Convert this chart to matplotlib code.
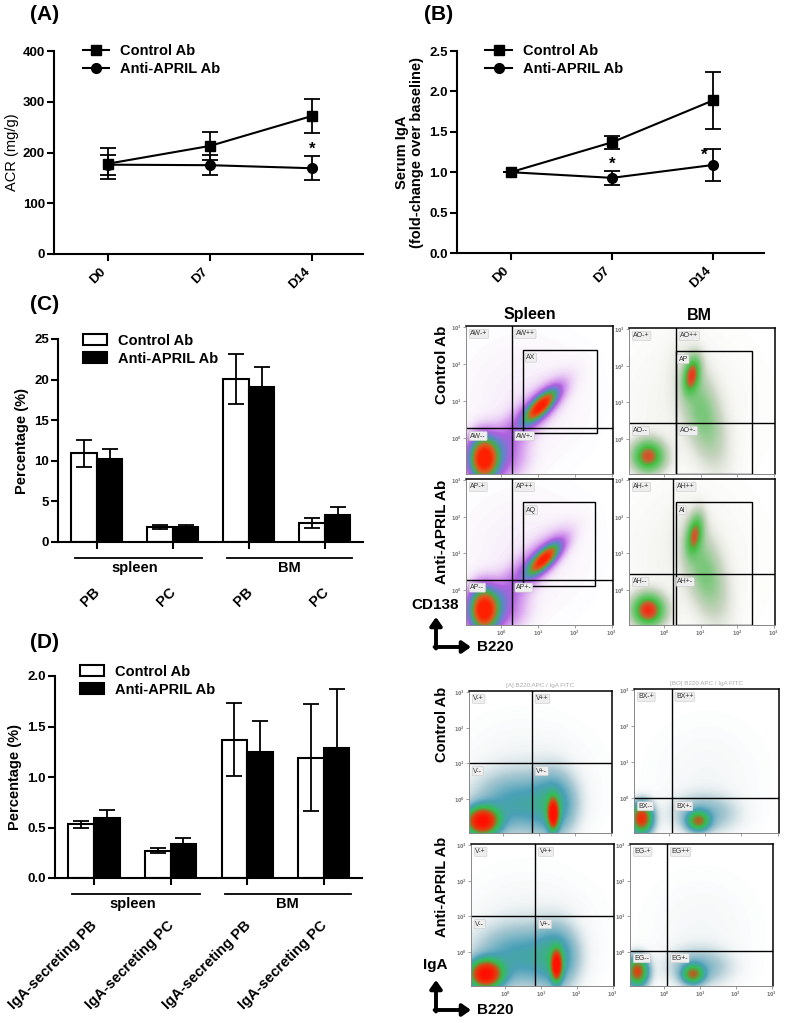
import numpy as np
import matplotlib.pyplot as plt
from matplotlib.colors import LinearSegmentedColormap
from matplotlib.patches import Patch, Rectangle
from matplotlib.lines import Line2D

plt.rcParams['font.family'] = ['Liberation Sans', 'DejaVu Sans']
plt.rcParams['font.weight'] = 'bold'
plt.rcParams['axes.labelweight'] = 'bold'

# ---- data -------------------------------------------------------------
days = ['D0', 'D7', 'D14']
acr_ctrl = [178, 213, 272]
acr_ctrl_err = [31, 28, 33]
acr_anti = [176, 175, 169]
acr_anti_err = [20, 20, 24]

iga_ctrl = [1.0, 1.37, 1.89]
iga_ctrl_err = [0.0, 0.08, 0.35]
iga_anti = [1.0, 0.93, 1.09]
iga_anti_err = [0.0, 0.09, 0.20]

c_labels = ['PB', 'PC', 'PB', 'PC']
pct_ctrl = [10.9, 1.85, 20.1, 2.35]
pct_ctrl_err = [1.65, 0.25, 3.05, 0.65]
pct_anti = [10.25, 1.85, 19.1, 3.35]
pct_anti_err = [1.25, 0.25, 2.4, 1.0]

d_labels = ['IgA-secreting PB', 'IgA-secreting PC',
            'IgA-secreting PB', 'IgA-secreting PC']
iga_pct_ctrl = [0.53, 0.27, 1.37, 1.19]
iga_pct_ctrl_err = [0.03, 0.025, 0.36, 0.53]
iga_pct_anti = [0.59, 0.34, 1.25, 1.29]
iga_pct_anti_err = [0.08, 0.06, 0.30, 0.58]

# flow plots: cluster (cx, cy, sx, sy, angle, weight) in axes fraction
spleen_ctrl_cl = [(0.12, 0.10, 0.06, 0.09, 0, 1.0), (0.20, 0.12, 0.12, 0.11, 0, 0.22),
                  (0.51, 0.46, 0.09, 0.035, 45, 0.95), (0.44, 0.40, 0.20, 0.065, 45, 0.16),
                  (0.40, 0.50, 0.30, 0.30, 0, 0.025)]
spleen_anti_cl = [(0.12, 0.10, 0.06, 0.09, 0, 1.0), (0.20, 0.12, 0.12, 0.11, 0, 0.22),
                  (0.53, 0.45, 0.09, 0.035, 45, 0.9), (0.45, 0.40, 0.20, 0.065, 45, 0.16),
                  (0.40, 0.50, 0.30, 0.30, 0, 0.025)]
bm_ctrl_cl = [(0.13, 0.12, 0.07, 0.07, 0, 0.8), (0.43, 0.68, 0.035, 0.08, -10, 0.75),
              (0.50, 0.42, 0.08, 0.22, 15, 0.3), (0.40, 0.45, 0.30, 0.35, 0, 0.03)]
bm_anti_cl = [(0.13, 0.10, 0.07, 0.07, 0, 0.95), (0.45, 0.62, 0.035, 0.09, -10, 0.65),
              (0.52, 0.36, 0.08, 0.20, 15, 0.3), (0.40, 0.45, 0.30, 0.35, 0, 0.03)]
iga_sp_ctrl_cl = [(0.09, 0.08, 0.075, 0.065, 0, 1.0), (0.59, 0.13, 0.025, 0.07, 0, 0.95),
                  (0.33, 0.20, 0.20, 0.14, 0, 0.22), (0.60, 0.20, 0.10, 0.15, 0, 0.22),
                  (0.40, 0.40, 0.30, 0.25, 0, 0.03)]
iga_sp_anti_cl = [(0.10, 0.08, 0.075, 0.065, 0, 1.0), (0.60, 0.14, 0.025, 0.07, 0, 0.9),
                  (0.33, 0.20, 0.20, 0.14, 0, 0.22), (0.60, 0.20, 0.10, 0.15, 0, 0.22),
                  (0.40, 0.40, 0.30, 0.25, 0, 0.03)]
iga_bm_ctrl_cl = [(0.05, 0.10, 0.05, 0.07, 0, 0.8), (0.44, 0.08, 0.05, 0.045, 0, 0.5),
                  (0.48, 0.13, 0.15, 0.09, 0, 0.15), (0.50, 0.40, 0.25, 0.25, 0, 0.02)]
iga_bm_anti_cl = [(0.05, 0.10, 0.05, 0.07, 0, 0.7), (0.44, 0.08, 0.05, 0.045, 0, 0.5),
                  (0.48, 0.13, 0.15, 0.09, 0, 0.15), (0.50, 0.40, 0.25, 0.25, 0, 0.02)]

W, H = 786, 1023
fig = plt.figure(figsize=(W / 100, H / 100), dpi=100)


def box(l, t, r, b):
    return fig.add_axes([l / W, 1 - b / H, (r - l) / W, (b - t) / H])


def prism(ax):
    for s in ['top', 'right']:
        ax.spines[s].set_visible(False)
    for s in ['left', 'bottom']:
        ax.spines[s].set_linewidth(1.5)
    ax.tick_params(width=1.5, length=5, labelsize=9.5, direction='out')
    ax.tick_params(axis='y', pad=1.5)


def line_panel(ax, ctrl, ce, anti, ae, ylim, yticks, fmt):
    x = np.arange(3)
    ek = dict(color='k', lw=1.5, ms=7, capsize=6, elinewidth=1.3, capthick=1.3)
    ax.errorbar(x, ctrl, yerr=ce, marker='s', **ek)
    ax.errorbar(x, anti, yerr=ae, marker='o', **ek)
    prism(ax)
    ax.set_xlim(-0.53, 2.5)
    ax.set_ylim(*ylim)
    ax.set_yticks(yticks)
    ax.set_yticklabels([fmt % v for v in yticks])
    ax.set_xticks(x)
    ax.set_xticklabels(days, rotation=45, ha='right', fontsize=9.5)
    handles = [Line2D([], [], color='k', lw=1.5, marker='s', ms=7),
               Line2D([], [], color='k', lw=1.5, marker='o', ms=7)]
    ax.legend(handles, ['Control Ab', 'Anti-APRIL Ab'], loc='upper left',
              bbox_to_anchor=(0.05, 1.1), frameon=False,
              fontsize=10.5, handlelength=1.8, labelspacing=0.3)


axA = box(54, 51, 363, 254)
line_panel(axA, acr_ctrl, acr_ctrl_err, acr_anti, acr_anti_err, (0, 400),
           [0, 100, 200, 300, 400], '%d')
axA.set_ylabel('ACR (mg/g)', fontsize=10.5, fontweight='normal', labelpad=3)
axA.text(2, 207, '*', ha='center', va='center', fontsize=12)

axB = box(457, 51, 764, 253)
line_panel(axB, iga_ctrl, iga_ctrl_err, iga_anti, iga_anti_err, (0, 2.5),
           [0, 0.5, 1.0, 1.5, 2.0, 2.5], '%.1f')
axB.set_ylabel('Serum IgA\n(fold-change over baseline)', fontsize=10.5, linespacing=1.1)
axB.text(1, 1.10, '*', ha='center', va='center', fontsize=12)
axB.text(1.91, 1.21, '*', ha='center', va='center', fontsize=12)


def bar_panel(ax, ctrl, ce, anti, ae, ylim, yticks, fmt, labels, leg_y, lab_y, lab_fs):
    x = np.arange(4)
    w = 0.335
    ek = dict(elinewidth=1.3, capthick=1.3)
    ax.bar(x - w / 2, ctrl, w, yerr=ce, color='white', edgecolor='k', lw=1.5,
           capsize=6, error_kw=ek)
    ax.bar(x + w / 2, anti, w, yerr=ae, color='black', edgecolor='k', lw=1.5,
           capsize=6, error_kw=ek)
    prism(ax)
    ax.set_xlim(-0.51, 3.5)
    ax.set_ylim(*ylim)
    ax.set_yticks(yticks)
    ax.set_yticklabels([fmt % v for v in yticks])
    ax.set_xticks(x)
    ax.set_xticklabels([])
    ax.set_ylabel('Percentage (%)', fontsize=10.5)
    handles = [Patch(facecolor='white', edgecolor='k', lw=1.5),
               Patch(facecolor='black', edgecolor='k', lw=1.5)]
    ax.legend(handles, ['Control Ab', 'Anti-APRIL Ab'], loc='upper left',
              bbox_to_anchor=(0.04, leg_y), frameon=False, fontsize=10.5,
              handlelength=1.6, handleheight=0.75, labelspacing=0.25)
    tr = ax.get_xaxis_transform()
    for (x0, x1), name, xc in [((-0.29, 1.38), 'spleen', 0.5), ((1.71, 3.36), 'BM', 2.53)]:
        ax.plot([x0, x1], [-0.08, -0.08], color='k', lw=1.3, transform=tr, clip_on=False)
        ax.text(xc, -0.13, name, ha='center', va='center', fontsize=10.5, transform=tr)
    for xi, lab in zip(x, labels):
        ax.text(xi + 0.08, lab_y, lab, rotation=45, ha='right', va='top',
                fontsize=lab_fs, transform=tr)


axC = box(58, 339, 363, 542)
bar_panel(axC, pct_ctrl, pct_ctrl_err, pct_anti, pct_anti_err, (0, 25),
          [0, 5, 10, 15, 20, 25], '%d', c_labels, 1.09, -0.21, 10.5)

axD = box(55, 676, 362, 878)
bar_panel(axD, iga_pct_ctrl, iga_pct_ctrl_err, iga_pct_anti, iga_pct_anti_err, (0, 2.0),
          [0, 0.5, 1.0, 1.5, 2.0], '%.1f', d_labels, 1.12, -0.2, 10.5)

# ---- flow cytometry dot plots -----------------------------------------
cmap_sp = LinearSegmentedColormap.from_list('sp', [
    (0.0, '#ffffff'), (0.02, '#f8f0fa'), (0.08, '#dcaaf0'), (0.18, '#b060e0'),
    (0.32, '#5a88c8'), (0.5, '#40b050'), (0.72, '#d86020'), (1.0, '#ff2000')])
cmap_bm = LinearSegmentedColormap.from_list('bm', [
    (0.0, '#ffffff'), (0.03, '#f2f2ee'), (0.12, '#c8d4c0'), (0.3, '#80c880'),
    (0.55, '#40c040'), (0.75, '#c86030'), (1.0, '#ff2010')])
cmap_iga = LinearSegmentedColormap.from_list('iga', [
    (0.0, '#ffffff'), (0.025, '#f2f5f6'), (0.1, '#a8c8d2'), (0.22, '#4aa0b8'),
    (0.42, '#30c050'), (0.7, '#e04010'), (1.0, '#ff1000')])


def density(clusters, n=200):
    g = np.linspace(0, 1, n)
    X, Y = np.meshgrid(g, g)
    d = np.zeros_like(X)
    for cx, cy, sx, sy, ang, w in clusters:
        t = np.deg2rad(ang)
        dx, dy = X - cx, Y - cy
        u = dx * np.cos(t) + dy * np.sin(t)
        v = -dx * np.sin(t) + dy * np.cos(t)
        d += w * np.exp(-0.5 * ((u / sx) ** 2 + (v / sy) ** 2))
    return d


def flow_panel(pos, clusters, cmap, vx, hy, pre, gate=None, title=None, xlabels=True):
    ax = box(*pos)
    ax.imshow(density(clusters), origin='lower', extent=(0, 1, 0, 1), cmap=cmap,
              vmin=0, vmax=1, aspect='auto', interpolation='bilinear')
    ax.set_xlim(0, 1)
    ax.set_ylim(0, 1)
    for s in ['top', 'right']:
        ax.spines[s].set_linewidth(1.1)
    for s in ['left', 'bottom']:
        ax.spines[s].set_color('#888888')
        ax.spines[s].set_linewidth(0.7)
    ticks = [0.24, 0.49, 0.74, 0.99]
    tl = ['$10^0$', '$10^1$', '$10^2$', '$10^3$']
    ax.set_xticks(ticks)
    ax.set_yticks(ticks)
    ax.set_xticklabels(tl if xlabels else [])
    ax.set_yticklabels(tl)
    ax.tick_params(length=2, width=0.5, pad=1, labelsize=3.5, colors='#777777')
    ax.axvline(vx, color='k', lw=1.0)
    ax.axhline(hy, color='k', lw=1.0)
    bb = dict(boxstyle='round,pad=0.15', fc='#eeeeee', ec='#c8c8c8', lw=0.4)
    lab = dict(fontsize=5, fontweight='normal', color='#333333', ha='left', va='top', bbox=bb)
    ax.text(0.03, 0.97, pre + '-+', **lab)
    ax.text(vx + 0.03, 0.97, pre + '++', **lab)
    ax.text(0.03, hy - 0.03, pre + '--', **lab)
    ax.text(vx + 0.03, hy - 0.03, pre + '+-', **lab)
    if gate is not None:
        x0, x1, y0, y1, name = gate
        ax.add_patch(Rectangle((x0, y0), x1 - x0, y1 - y0, fill=False, ec='k', lw=1.0))
        ax.text(x0 + 0.02, y1 - 0.03, name, **lab)
    if title is not None:
        ax.text(0.5, 1.02, title, transform=ax.transAxes, ha='center', va='bottom',
                fontsize=4.5, fontweight='normal', color='#aaaaaa')
    return ax


flow_panel((466, 326, 613, 474), spleen_ctrl_cl, cmap_sp, 0.31, 0.31, 'AW',
           (0.39, 0.89, 0.28, 0.84, 'AX'), xlabels=False)
flow_panel((629, 328, 775, 474), bm_ctrl_cl, cmap_bm, 0.32, 0.35, 'AO',
           (0.32, 0.84, 0.0, 0.84, 'AP'), xlabels=False)
flow_panel((466, 479, 613, 625), spleen_anti_cl, cmap_sp, 0.31, 0.31, 'AP',
           (0.39, 0.88, 0.27, 0.84, 'AQ'))
flow_panel((629, 479, 775, 625), bm_anti_cl, cmap_bm, 0.30, 0.35, 'AH',
           (0.32, 0.84, 0.0, 0.84, 'AI'))
flow_panel((469, 691, 612, 833), iga_sp_ctrl_cl, cmap_iga, 0.44, 0.49, 'V',
           title='[A] B220 APC / IgA FITC', xlabels=False)
flow_panel((634, 689, 779, 833), iga_bm_ctrl_cl, cmap_iga, 0.26, 0.24, 'BX',
           title='[BO] B220 APC / IgA FITC', xlabels=False)
flow_panel((471, 844, 614, 986), iga_sp_anti_cl, cmap_iga, 0.45, 0.49, 'V')
flow_panel((630, 844, 773, 986), iga_bm_anti_cl, cmap_iga, 0.26, 0.25, 'EG')

# ---- figure-level annotations -----------------------------------------
ov = fig.add_axes([0, 0, 1, 1])
ov.set_xlim(0, W)
ov.set_ylim(H, 0)
ov.axis('off')

for t, x, y in [('(A)', 30, 15), ('(B)', 424, 15), ('(C)', 30, 304), ('(D)', 30, 643)]:
    ov.text(x, y, t, fontsize=15, ha='left', va='center')

ov.text(530, 315, 'Spleen', fontsize=11.5, ha='center', va='center')
ov.text(699, 315, 'BM', fontsize=11.5, ha='center', va='center')
for t, y, fs in [('Control Ab', 365, 11), ('Anti-APRIL Ab', 532, 11),
                 ('Control Ab', 724, 10.5), ('Anti-APRIL Ab', 887, 10.5)]:
    ov.text(442, y, t, rotation=90, fontsize=fs, ha='center', va='center')

ap = dict(arrowstyle='-|>,head_width=0.35,head_length=0.5', lw=2.8, color='k',
          shrinkA=0, shrinkB=0)
for ylab, name, yb in [(605, 'CD138', 647), (965, 'IgA', 1010)]:
    ov.text(435, ylab, name, fontsize=11, ha='center', va='center')
    ov.annotate('', xy=(436, yb - 30), xytext=(436, yb + 1.5), arrowprops=ap)
    ov.annotate('', xy=(471, yb), xytext=(434.6, yb), arrowprops=ap)
    ov.text(477, yb, 'B220', fontsize=11, ha='left', va='center')

fig.savefig('out.png', dpi=100)
